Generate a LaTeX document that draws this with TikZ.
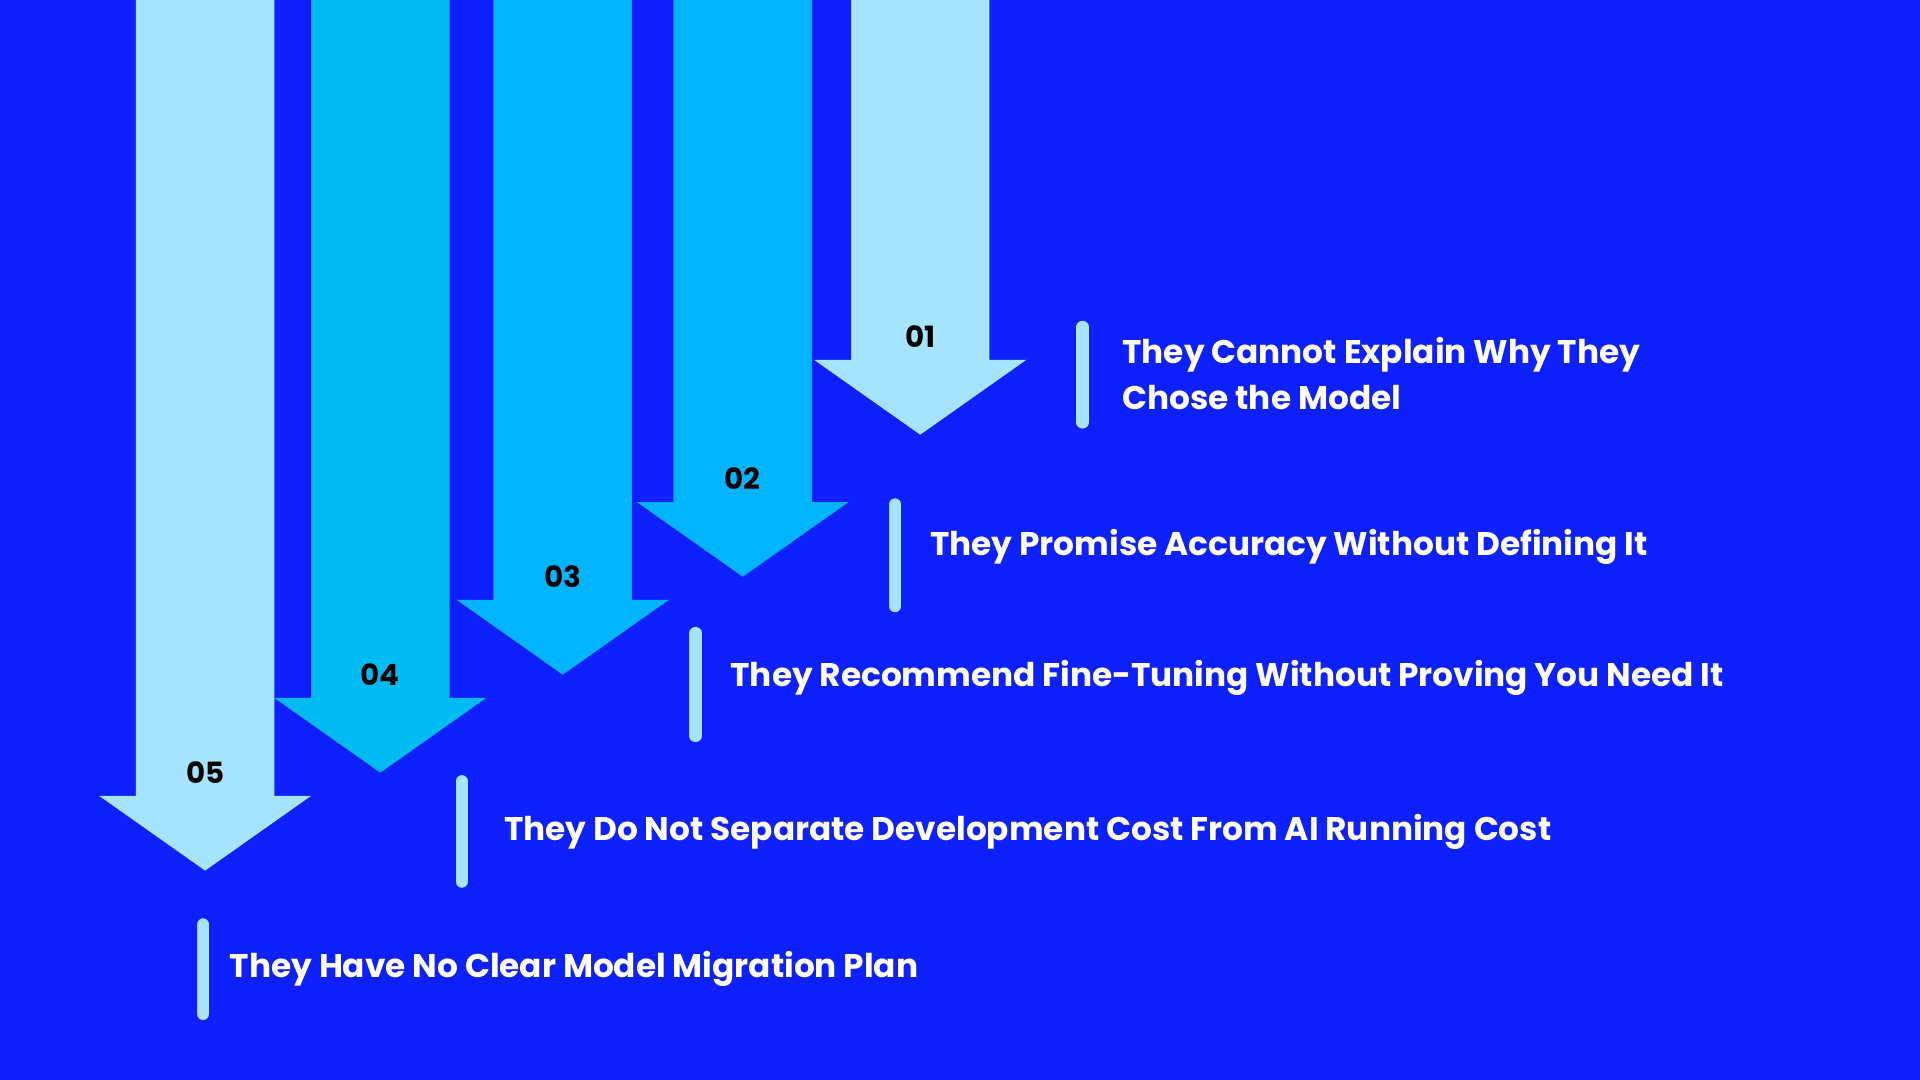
\documentclass[tikz,border=0pt]{standalone}
\usepackage{fontspec}
\setmainfont{Poppins}
\usetikzlibrary{positioning}
\definecolor{bgblue}{HTML}{0F20FF}
\definecolor{lightarrow}{HTML}{A6E3FF}
\definecolor{midarrow}{HTML}{00B4FF}
\definecolor{darkarrow}{HTML}{00BAF4}
\definecolor{barblue}{HTML}{A6E3FF}
\tikzset{
  numlabel/.style={font=\bfseries\fontsize{6.8}{8}\selectfont, text=black},
  reason/.style={anchor=west, font=\bfseries\fontsize{7.6}{10.6}\selectfont, text=white, align=left, inner sep=0pt},
  bar/.style={line width=0.1cm, line cap=round, barblue}
}
\begin{document}
\begin{tikzpicture}[x=0.01cm,y=-0.01cm]
  % background
  \fill[bgblue] (0,0) rectangle (1568,882);
  \useasboundingbox (0,0) rectangle (1568,882);

  % arrows: left edge of shaft / head y / colour / number / name
  \foreach \sx/\hy/\col/\num/\nm in {695/294/lightarrow/01/one, 550/410/midarrow/02/two,
                                     403/490/midarrow/03/three, 254/570/darkarrow/04/four,
                                     111/650/lightarrow/05/five}{
    \fill[\col] (\sx,0) -- (\sx+113,0) -- (\sx+113,\hy) -- (\sx+143,\hy)
                -- (\sx+56.5,\hy+61) -- (\sx-30,\hy) -- (\sx,\hy) -- cycle;
    \node[numlabel] (num\nm) at (\sx+56.5,\hy-19) {\num};
  }

  % reason bars and texts
  \draw[bar] (884,267) coordinate (barone) -- (884,345);
  \node[reason] (txtone) at (916,305) {They Cannot Explain Why They\\Chose the Model};

  \draw[bar] (731,412) coordinate (bartwo) -- (731,495);
  \node[reason] (txttwo) at (759,447) {They Promise Accuracy Without Defining It};

  \draw[bar] (568,517) coordinate (barthree) -- (568,601);
  \node[reason] (txtthree) at (596,554) {They Recommend Fine-Tuning Without Proving You Need It};

  \draw[bar] (377,638) coordinate (barfour) -- (377,720);
  \node[reason] (txtfour) at (411,679) {They Do Not Separate Development Cost From AI Running Cost};

  \draw[bar] (166,755) coordinate (barfive) -- (166,828);
  \node[reason] (txtfive) at (187,791) {They Have No Clear Model Migration Plan};
\end{tikzpicture}
\end{document}
